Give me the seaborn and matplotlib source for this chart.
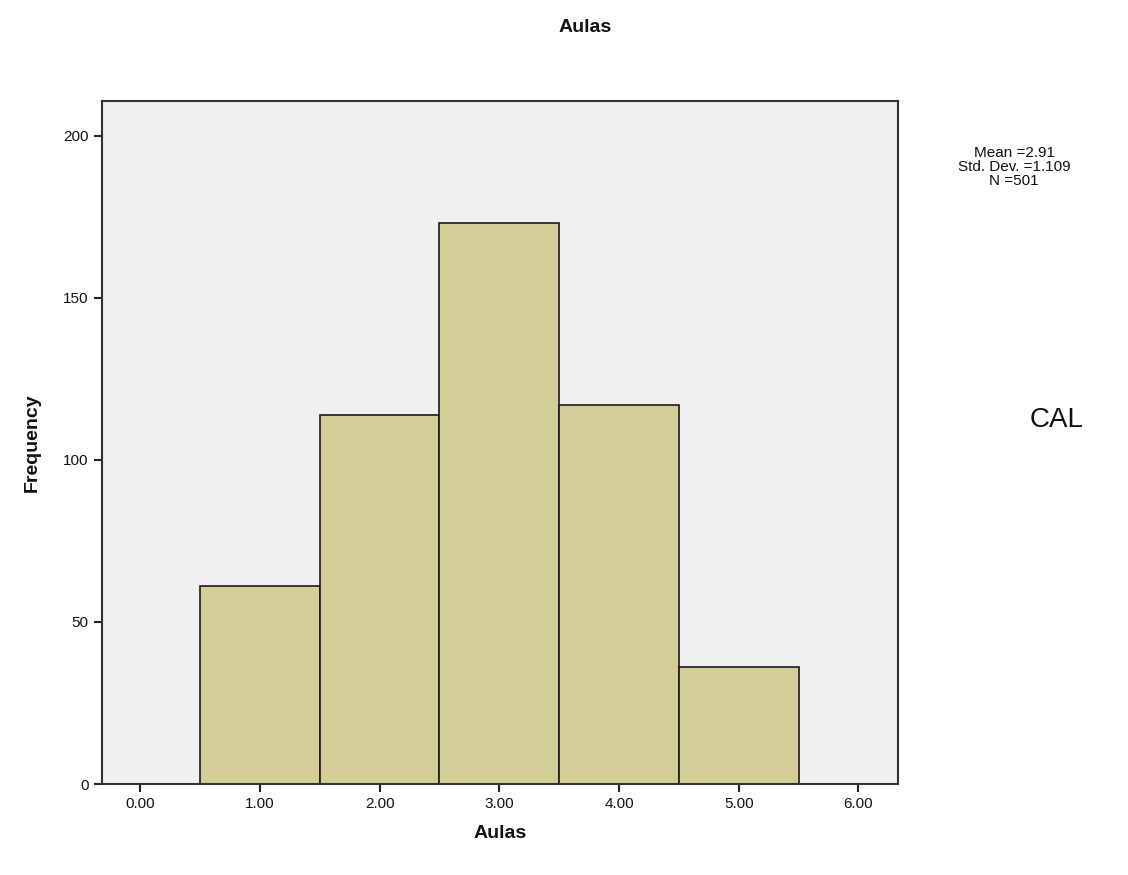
import pandas as pd
import seaborn as sns
import matplotlib.pyplot as plt

aulas = [1, 2, 3, 4, 5]
frequency = [61, 114, 173, 117, 36]
x_ticks = [0, 1, 2, 3, 4, 5, 6]
y_ticks = [0, 50, 100, 150, 200]

df = pd.DataFrame({"Aulas": aulas, "Frequency": frequency})

sns.set_style("ticks")
plt.rcParams["font.family"] = ["Liberation Sans", "DejaVu Sans"]

fig = plt.figure(figsize=(11.28, 8.75), dpi=100)
ax = fig.add_axes([0.0904, 0.104, 0.7056, 0.7806])
ax.set_facecolor("#f0f0f0")

sns.histplot(
    data=df, x="Aulas", weights="Frequency", discrete=True,
    color="#d3ce97", alpha=1, edgecolor="#1a1a1a", linewidth=1.2, ax=ax
)

ax.set_xlim(-0.32, 6.33)
ax.set_ylim(0, 210.8)
ax.set_xticks(x_ticks)
ax.set_xticklabels([f"{v:.2f}" for v in x_ticks])
ax.set_yticks(y_ticks)
ax.tick_params(axis="both", labelsize=11, length=6, width=1.5, color="#222222",
               labelcolor="#111111")
for s in ax.spines.values():
    s.set_visible(True)
    s.set_color("#333333")
    s.set_linewidth(1.5)

ax.set_xlabel("Aulas", fontsize=14, fontweight="bold", labelpad=10, color="#111111")
ax.set_ylabel("Frequency", fontsize=14, fontweight="bold", labelpad=16, color="#111111")
fig.text(0.519, 0.968, "Aulas", ha="center", va="center", fontsize=14,
         fontweight="bold", color="#111111")

fig.text(0.899, 0.809, "Mean =2.91\nStd. Dev. =1.109\nN =501",
         ha="center", va="center", fontsize=11, linespacing=1.0, color="#111111")
fig.text(0.913, 0.52, "CAL", ha="left", va="center", fontsize=20, color="#111111")

fig.savefig("out.png", dpi=100)
